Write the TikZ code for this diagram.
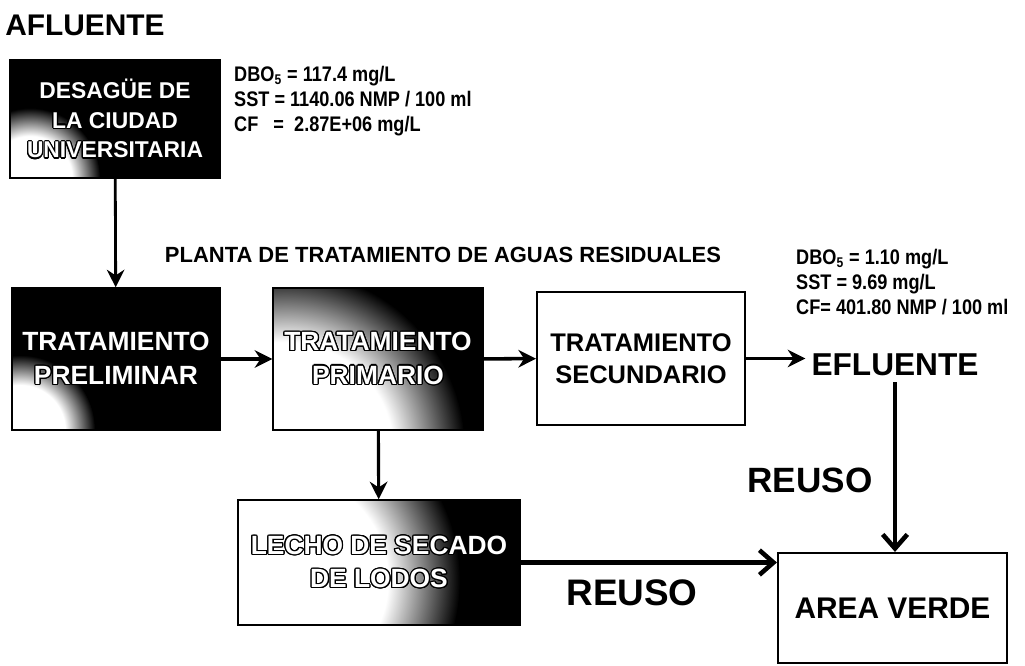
\documentclass[tikz,border=0pt]{standalone}
\usepackage{fontspec}
\setmainfont{Liberation Sans}
\newfontfamily\narrowfont[FakeStretch=0.86]{Liberation Sans}
\usepackage{contour}
\contourlength{0.7pt}
\usetikzlibrary{arrows.meta,positioning,backgrounds}
\newcommand{\outl}[1]{{\color{white}\contour{black}{#1}}}
\pgfdeclareradialshading{speck}{\pgfpoint{0bp}{0bp}}{color(0bp)=(white);color(15bp)=(white);color(25bp)=(black);color(50bp)=(black)}

\begin{document}
\begin{tikzpicture}[
  dbox/.style={draw=black,line width=0.8pt,align=center,inner sep=0pt,
               font=\bfseries\fontsize{15}{19}\selectfont},
  wbox/.style={draw=black,line width=1.2pt,fill=white,align=center,inner sep=0pt,
               font=\bfseries\fontsize{14.5}{18.5}\selectfont},
  vals/.style={anchor=west,align=left,font=\narrowfont\bfseries\fontsize{12}{14.2}\selectfont},
  arr/.style={-{Stealth[length=10pt,width=10pt]},line width=2pt},
  barb/.style={-{Straight Barb[length=8pt,width=14pt]},line width=2.6pt},
]
\useasboundingbox (0,0) rectangle (20.5,-13.32);
\node[font=\bfseries\fontsize{17}{20}\selectfont] (afl) at (1.7,-0.5) {AFLUENTE};
\node[dbox,minimum width=4.2cm,minimum height=2.36cm,font=\bfseries\fontsize{13}{17}\selectfont]
  (des) at (2.3,-2.38) {\outl{DESAGÜE DE}\\\outl{LA CIUDAD}\\\outl{UNIVERSITARIA}};
\node[vals] (v1) at (4.56,-2.02) {DBO\textsubscript{5} = 117.4 mg/L\\SST = 1140.06 NMP / 100 ml\\CF \ \ = \ 2.87E+06 mg/L};
\node[font=\bfseries\fontsize{12.5}{15}\selectfont] (ptar) at (8.86,-5.1) {PLANTA DE TRATAMIENTO DE AGUAS RESIDUALES};
\node[dbox,minimum width=4.16cm,minimum height=2.84cm] (pre) at (2.32,-7.18) {\outl{TRATAMIENTO}\\\outl{PRELIMINAR}};
\node[dbox,minimum width=4.2cm,minimum height=2.84cm] (pri) at (7.56,-7.18) {\outl{TRATAMIENTO}\\\outl{PRIMARIO}};
\node[wbox,minimum width=4.16cm,minimum height=2.66cm] (sec) at (12.82,-7.17) {TRATAMIENTO\\SECUNDARIO};
\node[font=\bfseries\fontsize{18}{20}\selectfont] (efl) at (17.9,-7.3) {EFLUENTE};
\node[vals] (v2) at (15.8,-5.64) {DBO\textsubscript{5} = 1.10 mg/L\\SST = 9.69 mg/L\\CF= 401.80 NMP / 100 ml};
\node[dbox,minimum width=5.64cm,minimum height=2.5cm] (lec) at (7.58,-11.25) {\outl{LECHO DE SECADO}\\\outl{DE LODOS}};
\node[wbox,minimum width=4.58cm,minimum height=2.2cm,font=\bfseries\fontsize{17}{20}\selectfont] (verde) at (17.85,-12.16) {AREA VERDE};
\node[font=\bfseries\fontsize{20}{24}\selectfont] (re1) at (16.2,-9.6) {REUSO};
\node[font=\bfseries\fontsize{21}{24}\selectfont] (re2) at (12.64,-11.86) {REUSO};
% dark boxes with light patch
\begin{scope}[on background layer]
\foreach \n/\x/\y/\r in {des/0.6/-3.56/1.4,pre/0.4/-8.6/1.5,pri/5.7/-9.0/3.6,lec/5.6/-11.6/3.6}{
  \fill[black] (\n.south west) rectangle (\n.north east);
  \begin{scope}
    \clip (\n.south west) rectangle (\n.north east);
    \shade[shading=speck] (\x,\y) circle (\r);
  \end{scope}
}
\end{scope}
\draw[arr,line width=1.6pt] (des) -- (pre);
\foreach \a/\b in {pre/pri,pri/sec}
  \draw[arr] (\a) -- (\b);
\draw[arr] (sec.east) -- (sec.east -| efl.west);
\draw[arr,line width=1.8pt] (pri) -- (lec);
\draw[barb] (efl.south) -- (efl.south |- verde.north);
\draw[barb] (lec.east) -- (lec.east -| verde.west);
\end{tikzpicture}
\end{document}
